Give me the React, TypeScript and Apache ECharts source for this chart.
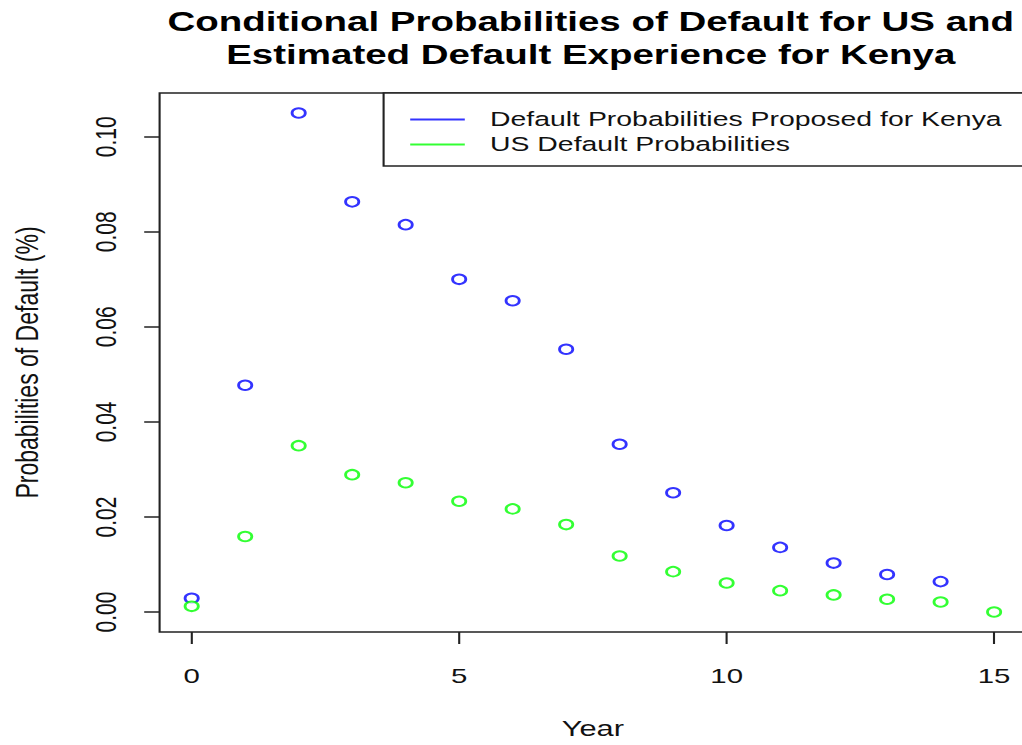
import React, { useEffect, useRef } from "react";
import * as echarts from "echarts";

const years: number[] = [0, 1, 2, 3, 4, 5, 6, 7, 8, 9, 10, 11, 12, 13, 14, 15];
const kenyaValues: number[] = [0.0029, 0.0477, 0.105, 0.0863, 0.0815, 0.07, 0.0655, 0.0553, 0.0353, 0.0251, 0.0182, 0.0136, 0.0103, 0.0079, 0.0064];
const usValues: number[] = [0.0012, 0.0159, 0.035, 0.0289, 0.0272, 0.0233, 0.0217, 0.0184, 0.0118, 0.0085, 0.0061, 0.0045, 0.0036, 0.0027, 0.0021, 0.0];
const xTicks: number[] = [0, 5, 10, 15];
const yTicks: number[] = [0, 0.02, 0.04, 0.06, 0.08, 0.1];
const kenyaName = "Default Probabilities Proposed for Kenya";
const usName = "US Default Probabilities";
const titleText = "Conditional Probabilities of Default for US and\nEstimated Default Experience for Kenya";

const STRETCH = 1.4;
const INNER_W = 734;
const H = 745;
const FONT = "'Liberation Sans', Arial, Helvetica, sans-serif";
const INK = "#111";

export default function App() {
  const ref = useRef<HTMLDivElement>(null);
  useEffect(() => {
    if (!ref.current) return;
    const chart = echarts.init(ref.current, undefined, { renderer: "svg" });
    const blue = "#0000ff";
    const green = "#00ff00";
    chart.setOption({
      animation: false,
      backgroundColor: "#ffffff",
      title: {
        text: titleText,
        left: 422,
        top: 5,
        padding: 0,
        textAlign: "center",
        textStyle: {
          fontFamily: FONT,
          fontSize: 27.5,
          fontWeight: "bold",
          color: "#000",
          lineHeight: 33,
        },
      },
      legend: {
        orient: "vertical",
        left: 274,
        top: 93,
        padding: [16, 20, 11, 19],
        itemWidth: 39,
        itemHeight: 2,
        itemGap: 4,
        borderColor: "#222",
        borderWidth: 1.5,
        backgroundColor: "#fff",
        itemStyle: { borderWidth: 0 },
        textStyle: {
          fontFamily: FONT,
          fontSize: 20.3,
          lineHeight: 21,
          color: INK,
          padding: [0, 0, 0, 13],
        },
        data: [
          { name: kenyaName, icon: "rect", itemStyle: { color: blue, borderWidth: 0 } },
          { name: usName, icon: "rect", itemStyle: { color: green, borderWidth: 0 } },
        ],
      },
      grid: {
        left: 113,
        right: 1,
        top: 93,
        bottom: 111,
        show: true,
        borderColor: "#222",
        borderWidth: 1.5,
        backgroundColor: "transparent",
      },
      xAxis: {
        type: "value",
        min: -0.6,
        max: 15.6,
        name: "Year",
        nameLocation: "middle",
        nameGap: 86,
        nameTextStyle: { fontFamily: FONT, fontSize: 22, color: INK },
        axisLine: { show: false, onZero: false },
        splitLine: { show: false },
        axisTick: {
          show: true,
          length: 12,
          inside: false,
          customValues: xTicks,
          lineStyle: { color: "#222", width: 1.5 },
        },
        axisLabel: {
          customValues: xTicks,
          margin: 33,
          fontFamily: FONT,
          fontSize: 21,
          color: INK,
        },
      },
      yAxis: {
        type: "value",
        min: -0.0042,
        max: 0.1092,
        name: "Probabilities of Default (%)",
        nameLocation: "middle",
        nameGap: 83,
        nameRotate: 90,
        nameTextStyle: { fontFamily: FONT, fontSize: 23, color: INK },
        axisLine: { show: false, onZero: false },
        splitLine: { show: false },
        axisTick: {
          show: true,
          length: 11,
          inside: false,
          customValues: yTicks,
          lineStyle: { color: "#222", width: 1.5 },
        },
        axisLabel: {
          customValues: yTicks,
          rotate: 90,
          margin: 28,
          fontFamily: FONT,
          fontSize: 21,
          color: INK,
          formatter: (v: number) => v.toFixed(2),
        },
      },
      series: [
        {
          name: kenyaName,
          type: "scatter",
          symbol: "emptyCircle",
          symbolSize: 9.5,
          itemStyle: { color: blue, borderWidth: 1.4 },
          data: kenyaValues.map((v, i) => [years[i], v]),
        },
        {
          name: usName,
          type: "scatter",
          symbol: "emptyCircle",
          symbolSize: 9.5,
          itemStyle: { color: green, borderWidth: 1.4 },
          data: usValues.map((v, i) => [years[i], v]),
        },
      ],
    });
    return () => chart.dispose();
  }, []);

  return (
    <div
      style={{
        position: "fixed",
        left: 0,
        top: 0,
        width: 1022,
        height: H,
        overflow: "hidden",
        background: "#fff",
      }}
    >
      <div
        ref={ref}
        style={{
          width: INNER_W,
          height: H,
          transform: `scaleX(${STRETCH})`,
          transformOrigin: "0 0",
        }}
      />
    </div>
  );
}
